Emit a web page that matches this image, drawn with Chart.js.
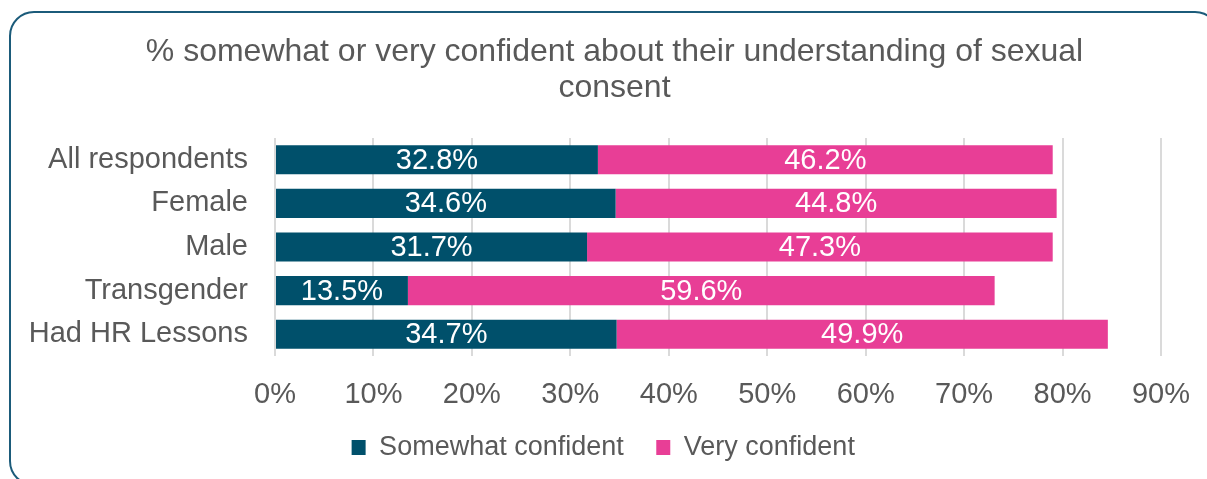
<!DOCTYPE html>
<html>
<head>
<meta charset="utf-8">
<script src="https://cdn.jsdelivr.net/npm/chart.js@4/dist/chart.umd.min.js"></script>
<style>
  html, body { margin: 0; padding: 0; background: #ffffff; overflow: hidden; }
  #frame {
    position: absolute; left: 9px; top: 11px; width: 1211px; height: 475px;
    box-sizing: border-box; border: 2px solid #1b5b7a; border-radius: 25px;
  }
  #chart { position: absolute; left: 0; top: 0; }
</style>
</head>
<body>
<div id="frame"></div>
<canvas id="chart" width="1207" height="479"></canvas>
<script>
// Survey groups and the share answering each confidence level (%)
const categories = ['All respondents', 'Female', 'Male', 'Transgender', 'Had HR Lessons'];
const somewhatConfident = [32.8, 34.6, 31.7, 13.5, 34.7];
const veryConfident = [46.2, 44.8, 47.3, 59.6, 49.9];
const seriesNames = ['Somewhat confident', 'Very confident'];
const titleLines = ['% somewhat or very confident about their understanding of sexual', 'consent'];
const axisMax = 90;
const axisStep = 10;

const TEAL = '#00506b';
const PINK = '#e83e96';
const TEXT = '#595959';
const FONT = "'Liberation Sans', Arial, sans-serif";

// Writes each segment's value in white at the middle of its bar
const segmentLabels = {
  id: 'segmentLabels',
  afterDatasetsDraw(chart) {
    const ctx = chart.ctx;
    ctx.save();
    ctx.fillStyle = '#ffffff';
    ctx.font = '29px ' + FONT;
    ctx.textAlign = 'center';
    ctx.textBaseline = 'middle';
    chart.data.datasets.forEach((ds, di) => {
      const meta = chart.getDatasetMeta(di);
      meta.data.forEach((bar, i) => {
        const p = bar.getProps(['x', 'y', 'base'], true);
        const cx = (p.x + p.base) / 2;
        ctx.fillText(ds.data[i].toFixed(1) + '%', cx, p.y + 1);
      });
    });
    ctx.restore();
  }
};

new Chart(document.getElementById('chart'), {
  type: 'bar',
  data: {
    labels: categories,
    datasets: [
      { label: seriesNames[0], data: somewhatConfident, backgroundColor: TEAL },
      { label: seriesNames[1], data: veryConfident, backgroundColor: PINK }
    ]
  },
  plugins: [segmentLabels],
  options: {
    indexAxis: 'y',
    responsive: false,
    animation: false,
    events: [],
    layout: { padding: { left: 22, right: 0, top: 0, bottom: 8 } },
    datasets: { bar: { barPercentage: 0.668, categoryPercentage: 1.0, borderWidth: 0 } },
    scales: {
      x: {
        stacked: true,
        min: 0,
        max: axisMax,
        border: { display: false },
        grid: { color: '#dadada', lineWidth: 2, drawTicks: false },
        ticks: {
          stepSize: axisStep,
          padding: 22,
          color: TEXT,
          font: { family: FONT, size: 29 },
          maxRotation: 0,
          callback: v => v + '%'
        },
        afterFit: s => { s.height = 68; s.paddingLeft = 0; s.paddingRight = 0; }
      },
      y: {
        stacked: true,
        border: { display: false },
        grid: { display: false, drawTicks: false },
        ticks: { padding: 27, color: TEXT, font: { family: FONT, size: 29 } },
        afterFit: s => { s.width = 253; }
      },
      // empty strip on the right that keeps room for the last tick label
      gutter: {
        type: 'linear',
        axis: 'y',
        position: 'right',
        border: { display: false },
        grid: { display: false, drawTicks: false },
        ticks: { display: false },
        afterFit: s => { s.width = 46; }
      }
    },
    plugins: {
      tooltip: { enabled: false },
      title: {
        display: true,
        text: titleLines,
        color: TEXT,
        font: { family: FONT, size: 32, weight: 'normal', lineHeight: 1.15 },
        padding: { top: 33.4, bottom: 31 }
      },
      legend: {
        position: 'bottom',
        labels: {
          color: TEXT,
          font: { family: FONT, size: 27 },
          boxWidth: 14,
          boxHeight: 15,
          padding: 10,
          generateLabels(chart) {
            const items = Chart.defaults.plugins.legend.labels.generateLabels(chart);
            items.forEach(it => {
              it.lineWidth = 0;
              it.text = it.text + '   ';
            });
            return items;
          }
        }
      }
    }
  }
});
</script>
</body>
</html>
